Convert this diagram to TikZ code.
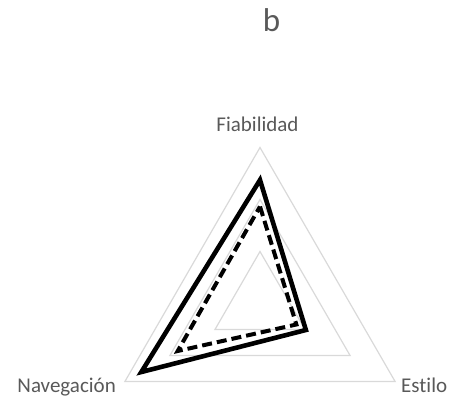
\documentclass[tikz,border=0pt]{standalone}
\usepackage{fontspec}
\setmainfont{Carlito}[Ligatures=NoCommon]
\usepackage{tikz}
\usetikzlibrary{calc}
\definecolor{gridgray}{HTML}{D9D9D9}
\definecolor{labelgray}{HTML}{595959}
\tikzstyle{gridline} = [draw = gridgray, line width = 1.2pt, line join = miter]
\tikzstyle{axislabel} = [inner sep = 0pt, text = labelgray, font = \fontsize{21}{24}\selectfont]
\tikzstyle{titlelabel} = [inner sep = 0pt, text = labelgray, font = \fontsize{33}{38}\selectfont]
\tikzstyle{seriessolid} = [draw = black, line width = 4.6pt, line join = miter]
\tikzstyle{seriesdashed} = [draw = black, line width = 4pt, dash pattern = on 10pt off 5pt, line join = miter]

\begin{document}
\begin{tikzpicture}[x=1pt, y=1pt]
\useasboundingbox (0,0) rectangle (449,396);
\coordinate (center) at (260,92.5);
% grid
\foreach \r in {52,104,156}
  \draw [gridline] ($(center)+(90:\r)$) -- ($(center)+(-30:\r)$) -- ($(center)+(210:\r)$) -- cycle;
% series
\coordinate (sa1) at ($(center)+(90:123.5)$);
\coordinate (sa2) at ($(center)+(-30:53)$);
\coordinate (sa3) at ($(center)+(210:137)$);
\coordinate (sb1) at ($(center)+(90:97)$);
\coordinate (sb2) at ($(center)+(-30:42)$);
\coordinate (sb3) at ($(center)+(210:95)$);
\draw [seriessolid] (sa1) -- (sa2) -- (sa3) -- cycle;
\draw [seriesdashed] (sb1) -- (sb2) -- (sb3) -- cycle;
% labels
\node [axislabel, anchor = base] (fiabilidad) at (257.5,264.3) {Fiabilidad};
\node [axislabel, anchor = base east] (navegacion) at (116,4) {Navegación};
\node [axislabel, anchor = base west] (estilo) at (401,4) {Estilo};
\node [titlelabel, anchor = base] (title) at (271.5,364) {b};
\end{tikzpicture}
\end{document}
